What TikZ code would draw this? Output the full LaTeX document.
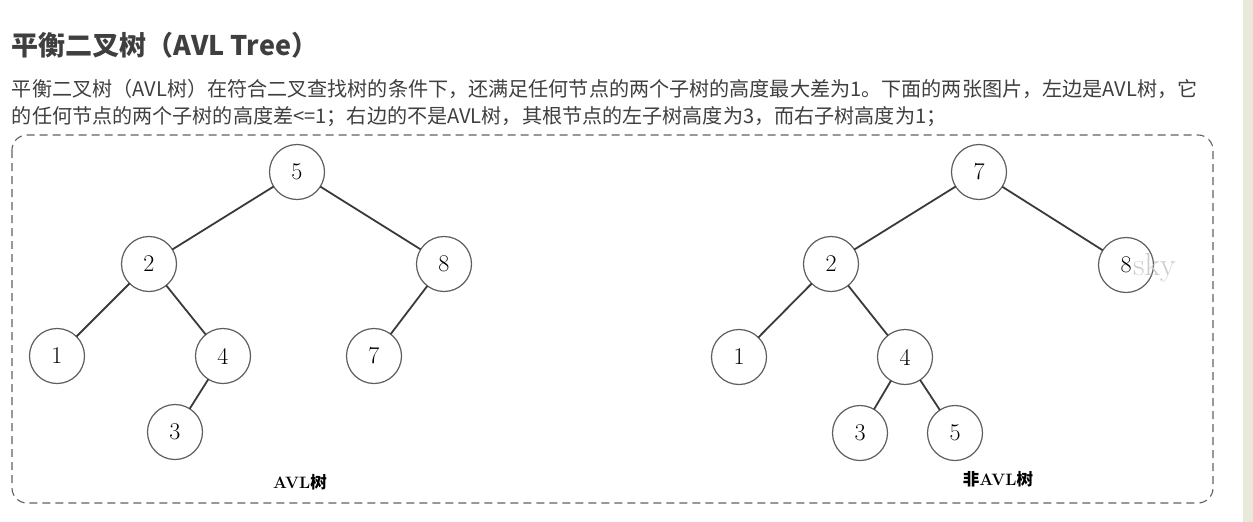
\documentclass[tikz,border=0pt]{standalone}
\usepackage{fontspec}
\newfontfamily\cjk{Noto Sans CJK SC}
\usepackage{tikz}
\usetikzlibrary{calc}

\definecolor{txtgray}{HTML}{3F3F3F}
\definecolor{ringgray}{HTML}{5E5E5E}
\definecolor{edgegray}{HTML}{3A3A3A}
\definecolor{stripgreen}{HTML}{E8E9D8}

\begin{document}
\begin{tikzpicture}[
  x=1pt, y=-1pt,
  every node/.style={inner sep=0pt, outer sep=0pt},
  tnode/.style={circle, draw=ringgray, line width=1.2pt,
                minimum size=55pt, font=\fontsize{24}{24}\selectfont},
  tedge/.style={draw=edgegray, line width=1.8pt},
  headtxt/.style={anchor=west, text=txtgray,
                  font=\cjk\bfseries\fontsize{27}{27}\selectfont},
  bodytxt/.style={anchor=west, text=txtgray,
                  font=\cjk\fontsize{20.1}{20.1}\selectfont},
  captxt/.style={font=\bfseries\fontsize{16.5}{16.5}\selectfont}
]
\useasboundingbox (0,0) rectangle (1253,522);
\fill[stripgreen] (1243,0) rectangle (1253,522);

% heading and text
\node[headtxt] (head)  at (12,45)  {平衡二叉树（AVL Tree）};
\node[bodytxt] (line1) at (12,89)  {平衡二叉树（AVL树）在符合二叉查找树的条件下，还满足任何节点的两个子树的高度最大差为1。下面的两张图片，左边是AVL树，它};
\node[bodytxt] (line2) at (12,117) {的任何节点的两个子树的高度差<=1；右边的不是AVL树，其根节点的左子树高度为3，而右子树高度为1；};

% frame
\draw[draw=black!62, line width=1.1pt, dash pattern=on 8pt off 5pt, rounded corners=15pt]
  (12,135) rectangle (1213,503);

% left tree (AVL)
\node[tnode] (l5) at (297,172) {5};
\node[tnode] (l2) at (149,264) {2};
\node[tnode] (l8) at (444,264) {8};
\node[tnode] (l1) at (57,356)  {1};
\node[tnode] (l4) at (223,356) {4};
\node[tnode] (l7) at (374,356) {7};
\node[tnode] (l3) at (175,432) {3};

\draw[tedge] (l5) -- (l2);
\draw[tedge] (l5) -- (l8);
\draw[tedge] (l2) -- (l1);
\draw[tedge] (l2) -- (l4);
\draw[tedge] (l8) -- (l7);
\draw[tedge] (l4) -- (l3);

\node[captxt] (lcap) at (300,482) {AVL{\cjk 树}};

% right tree (not AVL)
\node[tnode] (r7) at (979,172) {7};
\node[tnode] (r2) at (831,264) {2};
\node[tnode] (r8) at (1126,265) {8};
\node[tnode] (r1) at (739,357) {1};
\node[tnode] (r4) at (905,357) {4};
\node[tnode] (r3) at (860,433) {3};
\node[tnode] (r5) at (955,433) {5};

\draw[tedge] (r7) -- (r2);
\draw[tedge] (r7) -- (r8);
\draw[tedge] (r2) -- (r1);
\draw[tedge] (r2) -- (r4);
\draw[tedge] (r4) -- (r3);
\draw[tedge] (r4) -- (r5);

\node[captxt] (rcap) at (998,479) {{\cjk 非}AVL{\cjk 树}};

% watermark
\node[anchor=west, text=black!20, font=\fontsize{32}{32}\selectfont] (mark) at (1133,268) {sky};

\end{tikzpicture}
\end{document}
